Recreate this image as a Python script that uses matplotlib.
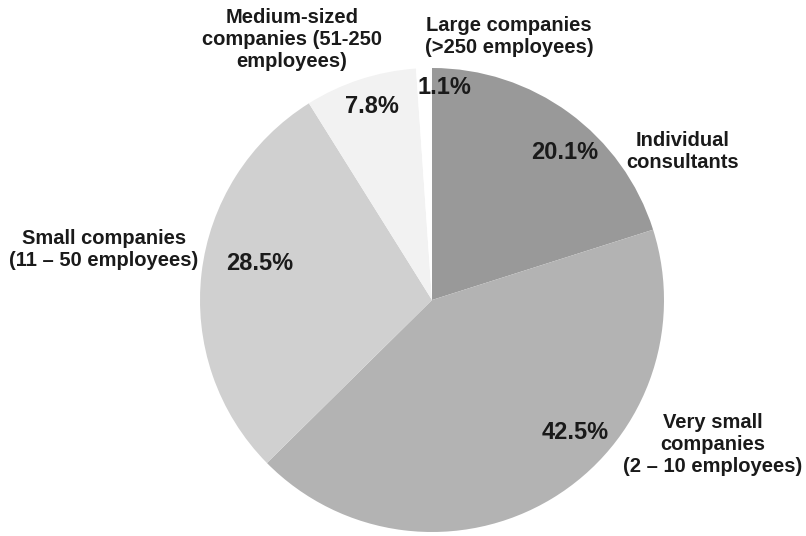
import matplotlib.pyplot as plt

plt.rcParams['font.family'] = ['Liberation Sans', 'DejaVu Sans']

# data
categorias = ['Individual\nconsultants',
              'Very small\ncompanies\n(2 \u2013 10 employees)',
              'Small companies\n(11 \u2013 50 employees)',
              'Medium-sized\ncompanies (51-250\nemployees)',
              'Large companies\n(>250 employees)']
porcentajes = [20.1, 42.5, 28.5, 7.8, 1.1]
colores = ['#999999', '#b3b3b3', '#d0d0d0', '#f2f2f2', '#ffffff']

# posiciones de los textos (coordenadas del eje, radio = 1)
pos_pct = [(0.573, 0.634), (0.616, -0.569), (-0.741, 0.159), (-0.259, 0.832), (0.052, 0.918)]
pos_lab = [(1.082, 0.642), (1.211, -0.625), (-1.414, 0.216), (-0.603, 1.121), (0.332, 1.134)]

fig = plt.figure(figsize=(8.06, 5.36), dpi=100)
ax = fig.add_axes([200/806, 4/536, 464/806, 464/536])
ax.pie(porcentajes, colors=colores, startangle=90, counterclock=False,
       radius=1, wedgeprops={'linewidth': 0})
ax.set_xlim(-1, 1)
ax.set_ylim(-1, 1)
ax.set_aspect('equal')
ax.axis('off')

for p, (x, y) in zip(porcentajes, pos_pct):
    ax.text(x, y, f'{p}%', ha='center', va='center', fontsize=17,
            fontweight='bold', color='#1a1a1a')

for lab, (x, y) in zip(categorias, pos_lab):
    ax.text(x, y, lab, ha='center', va='center', fontsize=14.5,
            fontweight='bold', color='#1a1a1a', linespacing=1.2,
            clip_on=False)

fig.savefig('out.png', dpi=100)
